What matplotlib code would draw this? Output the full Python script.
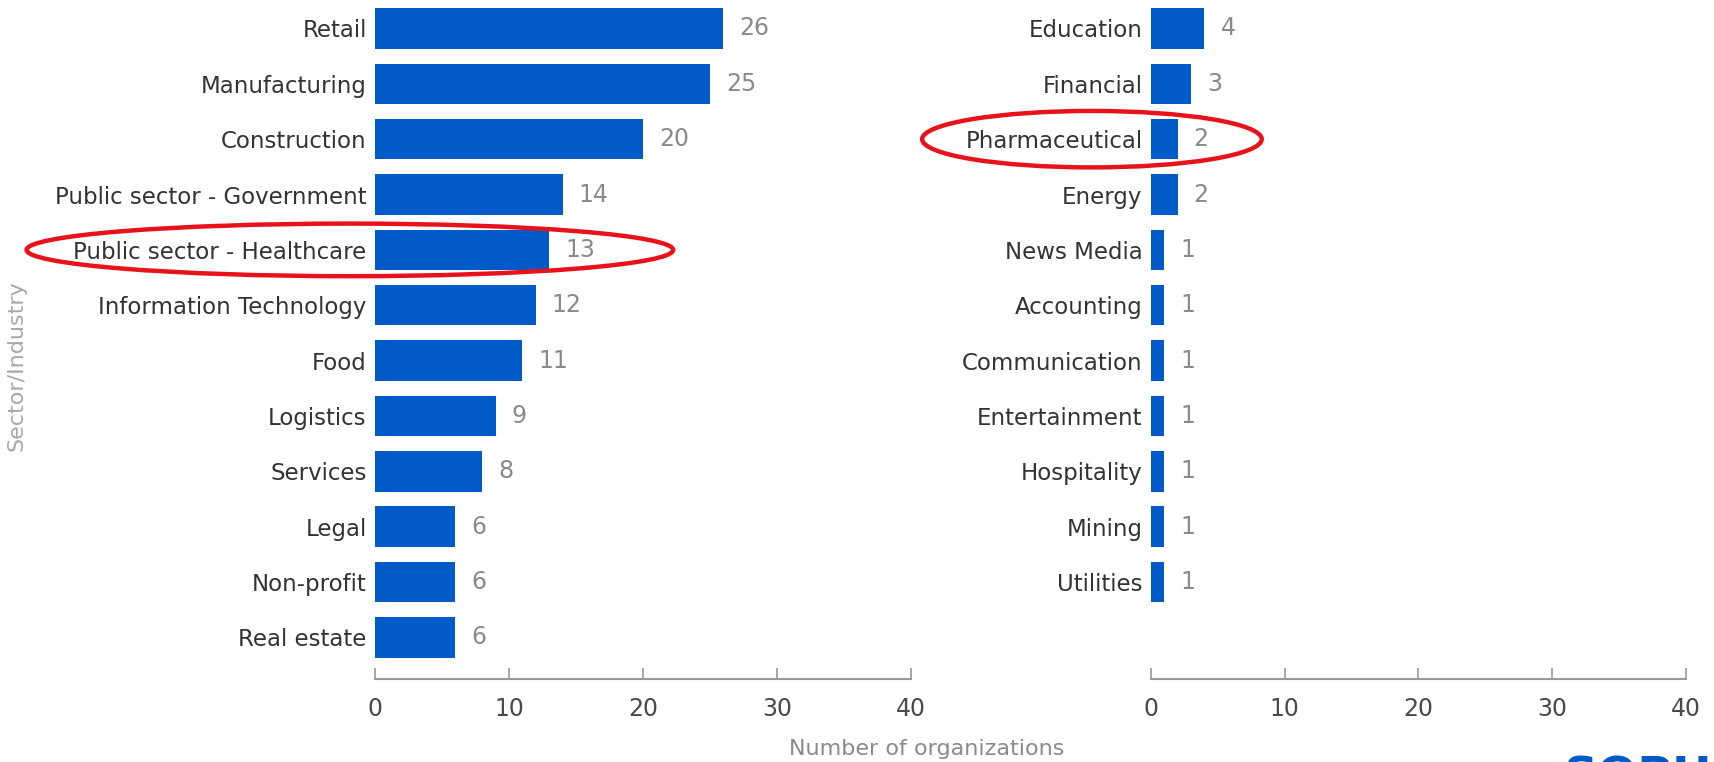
import matplotlib.pyplot as plt
from matplotlib.patches import Ellipse
from matplotlib.transforms import blended_transform_factory

# Sectors hit, split over two panels
left_sectors = ["Retail", "Manufacturing", "Construction", "Public sector - Government",
                "Public sector - Healthcare", "Information Technology", "Food", "Logistics",
                "Services", "Legal", "Non-profit", "Real estate"]
left_counts = [26, 25, 20, 14, 13, 12, 11, 9, 8, 6, 6, 6]

right_sectors = ["Education", "Financial", "Pharmaceutical", "Energy", "News Media",
                 "Accounting", "Communication", "Entertainment", "Hospitality", "Mining",
                 "Utilities"]
right_counts = [4, 3, 2, 2, 1, 1, 1, 1, 1, 1, 1]

x_ticks = [0, 10, 20, 30, 40]

BLUE = "#005BC8"
plt.rcParams["font.family"] = "DejaVu Sans"

fig = plt.figure(figsize=(17.15, 7.62), dpi=100)
ax_l = fig.add_axes([0.2187, 0.1090, 0.3125, 0.890])
ax_r = fig.add_axes([0.6711, 0.1090, 0.3120, 0.890])

for ax, names, vals in [(ax_l, left_sectors, left_counts), (ax_r, right_sectors, right_counts)]:
    ypos = list(range(len(names)))
    ax.barh(ypos, vals, height=0.73, color=BLUE)
    for y, v in zip(ypos, vals):
        ax.annotate(str(v), (v, y), xytext=(11.5, 0), textcoords="offset points",
                    va="center", ha="left", fontsize=17, color="#8a8a8a")
    ax.set_yticks(ypos)
    ax.set_yticklabels(names, fontsize=16.5, color="#333333")
    ax.set_ylim(11.75, -0.5)
    ax.set_xlim(0, 40)
    ax.set_xticks(x_ticks)
    ax.tick_params(axis="y", length=0, pad=6)
    ax.tick_params(axis="x", direction="in", length=8, width=1.2, color="#9a9a9a",
                   labelsize=17, labelcolor="#4a4a4a", pad=13)
    for s in ["top", "right", "left"]:
        ax.spines[s].set_visible(False)
    ax.spines["bottom"].set_color("#9a9a9a")
    ax.spines["bottom"].set_linewidth(1.5)

fig.text(0.5405, 0.017, "Number of organizations", ha="center", va="center",
         fontsize=16, color="#8a8a8a")
fig.text(0.0099, 0.52, "Sector/Industry", ha="center", va="center", rotation=90,
         fontsize=16, color="#a8a8a8")

# red highlight rings
tr_l = blended_transform_factory(fig.transFigure, ax_l.transData)
ax_l.add_patch(Ellipse((0.204, 4), 0.377, 0.95, transform=tr_l, fill=False,
                       edgecolor="#e8121b", linewidth=3.2, clip_on=False))
tr_r = blended_transform_factory(fig.transFigure, ax_r.transData)
ax_r.add_patch(Ellipse((0.6367, 2), 0.198, 1.02, transform=tr_r, fill=False,
                       edgecolor="#e8121b", linewidth=3.2, clip_on=False))

# logo, cut off by the bottom edge
fig.text(0.912, 0.009, "SOPHOS", ha="left", va="top", fontsize=34,
         fontweight="bold", color=BLUE)

fig.savefig("out.png", dpi=100)
